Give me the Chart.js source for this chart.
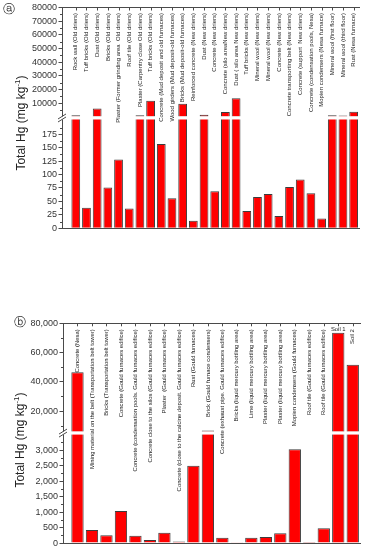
<!DOCTYPE html>
<html lang="en">
<head>
<meta charset="UTF-8">
<title>Total Hg in materials</title>
<script src="https://cdn.jsdelivr.net/npm/chart.js"></script>
<style>
  body, html { margin: 0; padding: 0; background: #fff; }
  #wrap { position: relative; width: 371px; height: 550px; overflow: hidden; }
  canvas { position: absolute; left: 0; }
  #chart-a { top: 0; }
  #chart-b { top: 290px; }
  .tag { position: absolute; font: 12px "DejaVu Sans", sans-serif; color: #333; line-height: 1; }
  .ytitle {
    position: absolute;
    font: 12px "Liberation Sans", Arial, sans-serif;
    color: #222;
    white-space: nowrap;
    transform: translate(-50%, -50%) rotate(-90deg);
  }
  .ytitle sup { font-size: 8px; }
</style>
</head>
<body>
<div id="wrap">
  <canvas id="chart-a" width="371" height="290"></canvas>
  <canvas id="chart-b" width="371" height="260"></canvas>
  <div class="tag" style="left:3px;top:3px">ⓐ</div>
  <div class="tag" style="left:14px;top:316px">ⓑ</div>
  <div class="ytitle" style="left:20px;top:123px">Total Hg (mg kg<sup>-1</sup>)</div>
  <div class="ytitle" style="left:19px;top:440px">Total Hg (mg kg<sup>-1</sup>)</div>
</div>
<script>
// panel a
const catsA = [
  'Rock wall (Old driers)', 'Tuff bricks (Old driers)', 'Dust (Old driers)', 'Bricks (Old driers)',
  'Plaster (Former grinding area  Old driers)', 'Roof tile (Old driers)', 'Plaster (Carpentry close Old driers)',
  'Tuff bricks (Old driers)', 'Concrete (Mud deposit and old furnaces)', 'Wood girders (Mud deposit-old furnaces)',
  'Bricks (Mud deposit-old furnaces)', 'Reinforced concrete (New driers)', 'Dust (New driers)', 'Concrete (New driers)',
  'Concrete (silo areaNew driers)', 'Dust ( silo area New driers)', 'Tuff bricks (New driers)', 'Mineral wool (New driers)',
  'Mineral wool (New driers)', 'Concrete (New driers)', 'Concrete transporting belt (New driers)',
  'Concrete (support  New driers)', 'Concrete (condensation pools, Nesa)', 'Mopien condensers (Nesa furnace)',
  'Mineral wool (first floor)', 'Mineral wool (third floor)', 'Rust (Nesa furnace)'
];
const hgA = [1100, 38, 6100, 76, 128, 37, 1100, 11800, 157, 56, 9600, 14, 1500, 69, 3400, 13600,
             32, 58, 64, 23, 77, 91, 65, 18, 1100, 1000, 3700];
const lowTicksA = [0, 25, 50, 75, 100, 125, 150, 175];
const highTicksA = [10000, 20000, 30000, 40000, 50000, 60000, 70000, 80000];

// panel b
const catsB = [
  'Concrete (Nesa)', 'Mining material on the belt (Transportation belt tower)', 'Bricks (Transportation belt tower)',
  'Concrete (Gould furnaces edifice)', 'Concrete (condensation pools. Gould furnaces edifice)',
  'Concrete close to the silos (Gould furnaces edifice)', 'Plaster  (Gould furnaces edifice)',
  'Concrete (close to the calcine deposit. Gould furnaces edifice)', 'Rust (Gould furnaces)',
  'Brick (Gould furnace condensers)', 'Concrete (exhaust pipe. Gould furnaces edifice)',
  'Bricks (liquid mercury bottling area)', 'Lime (liquid mercury bottling area)',
  'Plaster (liquid mercury bottling area)', 'Plaster (liquid mercury bottling area)',
  'Mopien condensers (Gould furnaces)', 'Roof tile (Gould furnaces edifice)', 'Roof tile (Gould furnaces edifice)',
  'Soil 1', 'Soil 2'
];
const hgB = [46600, 425, 250, 1040, 240, 100, 336, 55, 2500, 6800, 175, 8, 175, 195, 315, 3030, 4, 477, 73600, 51600];
const lowTicksB = [0, 500, 1000, 1500, 2000, 2500, 3000];
const highTicksB = [20000, 40000, 60000, 80000];

const AXIS = '#4a4a4a';
Chart.defaults.font.family = '"Liberation Sans", Arial, sans-serif';

function breakPlugin(p) {
  return {
    id: 'breaks',
    afterDraw(chart) {
      const {ctx, chartArea: ca} = chart;
      const {x, yLow, yHigh} = chart.scales;
      const yb = yHigh.bottom;
      ctx.save();

      // minor ticks halfway between the labelled ones
      ctx.strokeStyle = AXIS;
      ctx.lineWidth = 1;
      [[yLow, p.lowTicks], [yHigh, p.highTicks]].forEach(([s, t]) => {
        const step = t[1] - t[0];
        for (let m = t[0] - step / 2; m <= s.max; m += step) {
          if (m < s.min) continue;
          const py = Math.round(s.getPixelForValue(m)) + 0.5;
          ctx.beginPath();
          ctx.moveTo(ca.left, py);
          ctx.lineTo(ca.left - 2, py);
          ctx.stroke();
        }
      });

      // gap of the broken axis
      ctx.fillStyle = '#fff';
      ctx.fillRect(ca.left - 1.5, yb, ca.right - ca.left + 2, p.gap);
      ctx.beginPath();
      [yb, yb + p.gap].forEach(y => {
        ctx.moveTo(ca.left - 4, y + 2.5);
        ctx.lineTo(ca.left + 4, y - 2.5);
      });
      ctx.stroke();

      // little ticks under the top frame line
      p.cats.forEach((c, i) => {
        const px = Math.round(x.getPixelForValue(i)) + 0.5;
        ctx.beginPath();
        ctx.moveTo(px, ca.top);
        ctx.lineTo(px, ca.top + 3);
        ctx.stroke();
      });

      // sample names
      ctx.fillStyle = '#222';
      ctx.font = p.labelSize + 'px "Liberation Sans", Arial, sans-serif';
      p.cats.forEach((c, i) => {
        const v = p.values[i];
        const px = x.getPixelForValue(i);
        const top = (v > p.lowMax ? yHigh : yLow).getPixelForValue(v);
        if (top - ca.top < 12) {
          ctx.textAlign = 'center';
          ctx.textBaseline = 'bottom';
          ctx.fillText(c, px, top - 0.5);
          return;
        }
        ctx.save();
        ctx.translate(px, ca.top + p.labelTop);
        ctx.rotate(-Math.PI / 2);
        ctx.textAlign = 'right';
        ctx.textBaseline = 'middle';
        ctx.fillText(c, 0, 0);
        ctx.restore();
      });
      ctx.restore();
    }
  };
}

function brokenBars(id, p) {
  const low = p.values.map((v, i) => ({x: i, y: Math.min(v, p.lowMax)}));
  const high = p.values.map((v, i) => ({x: i, y: v > p.lowMax ? v : null}));
  const bar = {
    backgroundColor: '#ff0000', borderColor: '#3c3c3c', borderWidth: 1,
    barPercentage: p.barPct, categoryPercentage: 1, grouped: false, xAxisID: 'x'
  };
  const yAxis = (min, max, ticks, weight) => ({
    type: 'linear', axis: 'y', position: 'left', stack: 'y', stackWeight: weight, min: min, max: max,
    afterBuildTicks: s => { s.ticks = ticks.map(v => ({value: v})); },
    afterFit: s => { s.width = p.axisWidth; },
    ticks: {autoSkip: false, color: '#333', padding: 1.5, font: {size: 9}, callback: v => p.fmt(v)},
    grid: {drawOnChartArea: false, drawTicks: true, tickLength: 3.5, color: AXIS, lineWidth: 1},
    border: {display: true, color: AXIS, width: 1}
  });
  const xAxis = pos => ({
    type: 'linear', axis: 'x', position: pos, min: p.xMin, max: p.xMax, offset: false,
    ticks: {display: false}, grid: {display: false},
    border: {display: true, color: AXIS, width: 1},
    afterFit: s => { s.height = 0; }
  });
  return new Chart(document.getElementById(id), {
    type: 'bar',
    data: {
      datasets: [
        Object.assign({}, bar, {data: low, yAxisID: 'yLow'}),
        Object.assign({}, bar, {data: high, yAxisID: 'yHigh'})
      ]
    },
    options: {
      responsive: false,
      animation: false,
      layout: {padding: p.padding},
      plugins: {legend: {display: false}, tooltip: {enabled: false}},
      scales: {
        x: xAxis('bottom'),
        xTop: xAxis('top'),
        yLow: yAxis(0, p.lowMax, p.lowTicks, p.lowWeight),
        yHigh: yAxis(p.highMin, p.highMax, p.highTicks, 1)
      }
    },
    plugins: [breakPlugin(p)]
  });
}

brokenBars('chart-a', {
  cats: catsA, values: hgA, lowTicks: lowTicksA, highTicks: highTicksA,
  lowMax: 208, highMin: 200, highMax: 80000, lowWeight: 1.026,
  xMin: -1.29, xMax: 26.5, barPct: 0.82, axisWidth: 62,
  padding: {left: 0, top: 7.5, right: 12, bottom: 61.7},
  gap: 3, labelSize: 6.0, labelTop: 5.5,
  fmt: v => String(v)
});

brokenBars('chart-b', {
  cats: catsB, values: hgB, lowTicks: lowTicksB, highTicks: highTicksB,
  lowMax: 3600, highMin: 6000, highMax: 80000, lowWeight: 1.03,
  xMin: -1.0, xMax: 19.5, barPct: 0.85, axisWidth: 63,
  padding: {left: 0, top: 33.3, right: 11, bottom: 6},
  gap: 3, labelSize: 5.9, labelTop: 6,
  fmt: v => v.toLocaleString('en-US')
});
</script>
</body>
</html>
